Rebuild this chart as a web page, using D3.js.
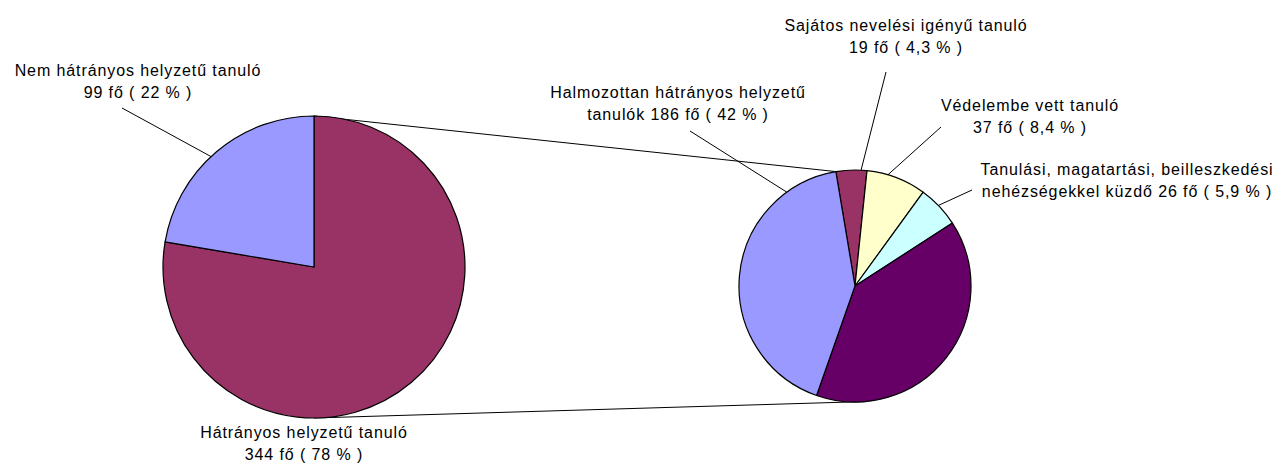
<!DOCTYPE html>
<html>
<head>
<meta charset="utf-8">
<script src="https://cdn.jsdelivr.net/npm/d3@7"></script>
<style>
    body { margin: 0; background: #fff; }
    svg text { font-family: "Liberation Sans", Arial, sans-serif; font-size: 16px; letter-spacing: 0.9px; fill: #000; }
</style>
</head>
<body>
<div id="vis-container"></div>
<script>
// main pie
const mainNames = ["Hátrányos helyzetű tanuló", "Nem hátrányos helyzetű tanuló"]
const mainValues = [344, 99]
const mainColors = ["#993366", "#9999ff"]
const mainLabelLines = [
    ["Hátrányos helyzetű tanuló", "344 fő ( 78 % )"],
    ["Nem hátrányos helyzetű tanuló", "99 fő ( 22 % )"]
]

// secondary pie (breakdown)
const subNames = ["Sajátos nevelési igényű tanuló", "Védelembe vett tanuló", "Tanulási, magatartási, beilleszkedési nehézségekkel küzdő", "egyéb", "Halmozottan hátrányos helyzetű tanulók"]
const subValues = [19, 37, 26, 175, 186]
const subColors = ["#993366", "#ffffcc", "#ccffff", "#660066", "#9999ff"]
const subLabelLines = [
    ["Sajátos nevelési igényű tanuló", "19 fő ( 4,3 % )"],
    ["Védelembe vett tanuló", "37 fő ( 8,4 % )"],
    ["Tanulási, magatartási, beilleszkedési", "nehézségekkel küzdő 26 fő ( 5,9 % )"],
    null,
    ["Halmozottan hátrányos helyzetű", "tanulók 186 fő ( 42 % )"]
]

const svgWidth = 1285
const svgHeight = 466

const svg = d3.select('#vis-container')
    .append('svg')
    .attr('width', svgWidth)
    .attr('height', svgHeight)

const deg = Math.PI / 180

const left = { cx: 314, cy: 267, r: 151, start: 0 }
const right = { cx: 855, cy: 286, r: 116, start: -9.5 * deg }

// point on a pie's rim, angle clockwise from 12 o'clock
function rim(p, a) {
    return [p.cx + p.r * Math.sin(a), p.cy - p.r * Math.cos(a)]
}

function drawPie(p, values, colors) {
    const arcs = d3.pie().sort(null)
        .startAngle(p.start).endAngle(p.start + 2 * Math.PI)(values)
    const arc = d3.arc().innerRadius(0).outerRadius(p.r)
    svg.append('g')
        .attr('transform', `translate(${p.cx},${p.cy})`)
        .selectAll('path')
        .data(arcs)
        .join('path')
        .attr('d', arc)
        .attr('fill', (d, i) => colors[i])
        .attr('stroke', '#000')
        .attr('stroke-width', 1.2)
        .attr('stroke-linejoin', 'round')
    return arcs
}

// connector lines between the two pies
const lines = svg.append('g').attr('stroke', '#000').attr('stroke-width', 1).attr('fill', 'none')

const mainArcs = drawPie(left, mainValues, mainColors)
const subArcs = drawPie(right, subValues, subColors)

const top1 = rim(left, 0), top2 = rim(right, subArcs[0].startAngle)
const bot1 = rim(left, Math.PI), bot2 = rim(right, 175 * deg)
lines.append('line').attr('x1', top1[0]).attr('y1', top1[1]).attr('x2', top2[0]).attr('y2', top2[1])
lines.append('line').attr('x1', bot1[0]).attr('y1', bot1[1]).attr('x2', bot2[0]).attr('y2', bot2[1])

////////////// labels //////////////
// x, y of first line, leader start, rim angle where the leader touches
const labelLayout = [
    { pie: left, lines: mainLabelLines[0], x: 304, y: 438, lead: null },
    { pie: left, lines: mainLabelLines[1], x: 138, y: 76, lead: [122, 108], at: -43 * deg },
    { pie: right, lines: subLabelLines[0], x: 906, y: 31, lead: [886, 72], at: 3 * deg },
    { pie: right, lines: subLabelLines[1], x: 1030, y: 111, lead: [941, 127], at: 16.5 * deg },
    { pie: right, lines: subLabelLines[2], x: 1127, y: 175, lead: [972, 190], at: 46 * deg },
    { pie: right, lines: subLabelLines[4], x: 678, y: 98, lead: [690, 131], at: -36 * deg }
]

const lineGap = 22

labelLayout.forEach(l => {
    svg.append('text')
        .attr('text-anchor', 'middle')
        .selectAll('tspan')
        .data(l.lines)
        .join('tspan')
        .attr('x', l.x)
        .attr('y', (d, i) => l.y + i * lineGap)
        .text(d => d)
    if (l.lead) {
        const e = rim(l.pie, l.at)
        svg.append('line')
            .attr('x1', l.lead[0]).attr('y1', l.lead[1])
            .attr('x2', e[0]).attr('y2', e[1])
            .attr('stroke', '#000').attr('stroke-width', 1)
    }
})
</script>
</body>
</html>
